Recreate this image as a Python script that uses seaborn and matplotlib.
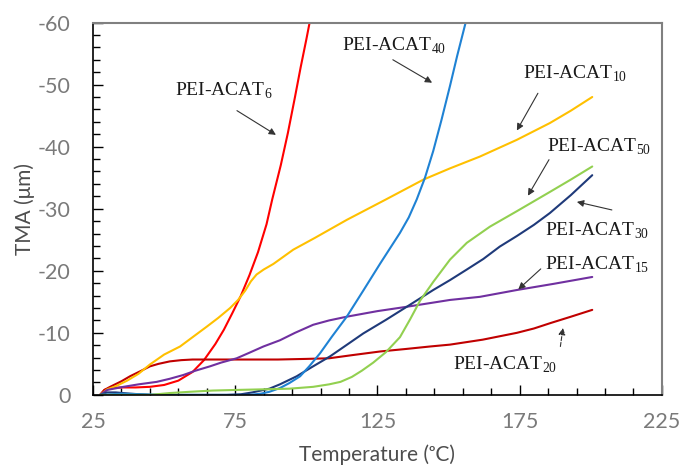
import matplotlib
matplotlib.use('Agg')
import matplotlib.pyplot as plt
import seaborn as sns
import pandas as pd
from matplotlib.ticker import MultipleLocator, FuncFormatter

# Data
x6 = [27.5, 29, 31, 35, 40, 45, 50, 55, 60, 64, 68, 71, 74, 77, 80, 83, 86, 88, 91, 93.5, 96, 98, 100, 102]
y6 = [0, -0.8, -1.1, -1.2, -1.2, -1.3, -1.6, -2.3, -3.7, -5.6, -8.2, -10.5, -13.2, -16, -19.3, -23, -27.5, -31.5, -37, -42.2, -48, -52.8, -57.3, -62]

x20 = [27.5, 29, 31, 35, 38, 42, 45, 48, 52, 56, 60, 70, 80, 90, 100, 108, 116, 126, 135, 143.5, 150.5, 162, 174, 180, 186, 193, 200.5]
y20 = [0, -0.8, -1.3, -2.2, -3.0, -3.9, -4.6, -5.0, -5.4, -5.6, -5.7, -5.7, -5.7, -5.7, -5.8, -5.9, -6.4, -7.0, -7.4, -7.8, -8.1, -8.9, -10.0, -10.7, -11.6, -12.6, -13.7]

x10 = [27.5, 30, 33, 37, 41, 45, 50, 55.6, 60, 65, 69, 73.2, 76, 78.5, 80.5, 82.5, 85, 88.4, 95.4, 103, 114.2, 128, 141.2, 150.5, 161, 174, 185.6, 193, 200.5]
y10 = [0, -0.9, -1.4, -2.3, -3.4, -4.9, -6.5, -7.8, -9.3, -11, -12.4, -14, -15.3, -16.8, -18.3, -19.4, -20.2, -21.1, -23.4, -25.3, -28.2, -31.5, -34.7, -36.5, -38.4, -41.1, -43.8, -45.8, -48]

x15 = [27.5, 30, 35.7, 41, 47.4, 52, 56.7, 61, 66.1, 70, 75.5, 80, 84.9, 90.7, 96, 102.4, 108, 114.2, 125, 135.3, 150.5, 161, 174, 187, 200.5]
y15 = [0, -0.8, -1.3, -1.7, -2.1, -2.6, -3.2, -3.9, -4.6, -5.2, -5.9, -6.8, -7.8, -8.8, -10, -11.3, -12.0, -12.6, -13.5, -14.2, -15.3, -15.8, -16.9, -17.9, -19]

x30 = [27.5, 30, 33, 38, 45, 55, 65, 72, 77, 81, 84, 87, 90.7, 96.6, 102, 108.3, 114, 120, 128, 135.3, 144.6, 150.5, 156.4, 162.2, 168, 174, 180, 185.6, 193, 200.5]
y30 = [0, -0.4, -0.4, -0.2, 0, 0, 0, 0, -0.1, -0.4, -0.7, -1.0, -1.7, -3.0, -4.5, -6.2, -8.0, -9.9, -12.1, -14.2, -16.9, -18.5, -20.2, -21.9, -23.9, -25.6, -27.4, -29.3, -32.2, -35.4]

x40 = [27.5, 35, 50, 65, 75, 80, 84, 87, 90.7, 94, 97.8, 101, 104.8, 109, 114.2, 120, 126, 132.9, 136, 138.8, 141.7, 144.6, 147.5, 150.5, 153, 156, 157]
y40 = [0, -0.2, 0, 0, 0, 0, -0.2, -0.5, -1.1, -1.9, -3.0, -4.6, -6.7, -9.4, -12.6, -16.8, -21.2, -26.1, -28.6, -31.5, -35.0, -39.3, -44.3, -49.8, -54.6, -60, -61.8]

x50 = [27.5, 35, 45, 52, 59, 67, 75.5, 85, 94, 102.4, 108, 112, 116, 119.5, 123.5, 128, 132.9, 136.5, 140, 144.6, 150.5, 156.4, 164.5, 174, 185.6, 193, 200.5]
y50 = [0, 0, 0, -0.3, -0.5, -0.7, -0.8, -0.9, -1.0, -1.3, -1.7, -2.1, -2.9, -3.9, -5.2, -6.9, -9.3, -12.2, -15.2, -18.2, -21.8, -24.5, -27.1, -29.6, -32.7, -34.7, -36.8]

series = [
    ('6', x6, y6, '#FF0000'),
    ('20', x20, y20, '#C00000'),
    ('10', x10, y10, '#FFC000'),
    ('15', x15, y15, '#7030A0'),
    ('30', x30, y30, '#1F3A7A'),
    ('40', x40, y40, '#1F82D4'),
    ('50', x50, y50, '#92D050'),
]

# annotation labels: (subscript, text x, text y, arrow start, arrow end, dashed)
labels = [
    ('6', 53.8, -48.2, (75.6, -45.8), (89.3, -41.9), False),
    ('40', 112.4, -55.5, (130.4, -54.0), (144.2, -50.3), False),
    ('10', 176.1, -51.0, (181.4, -48.6), (174.0, -42.6), False),
    ('50', 184.5, -39.2, (185.3, -37.9), (177.9, -32.1), False),
    ('30', 183.9, -25.6, (207.4, -29.8), (195.1, -31.1), False),
    ('15', 183.9, -20.2, (182.4, -20.3), (174.5, -17.0), False),
    ('20', 151.5, -4.0, (189.3, -7.8), (190.2, -10.8), True),
]

sns.set_style('ticks')
plt.rcParams['font.family'] = ['Lato', 'DejaVu Sans']
plt.rcParams['axes.unicode_minus'] = False
plt.rcParams['mathtext.fontset'] = 'custom'
plt.rcParams['mathtext.rm'] = 'Liberation Serif'

fig = plt.figure(figsize=(6.81, 4.69), dpi=100)
ax = fig.add_axes([0.1366, 0.158, 0.8354, 0.794])

for name, xs, ys, col in series:
    df = pd.DataFrame({'T': xs, 'TMA': ys})
    sns.lineplot(data=df, x='T', y='TMA', sort=False, color=col, lw=1.5, ax=ax)

ax.set_xlim(25, 225)
ax.set_ylim(0, -60)
ax.xaxis.set_major_locator(MultipleLocator(50, offset=25))
ax.xaxis.set_minor_locator(MultipleLocator(10, offset=5))
ax.yaxis.set_major_locator(MultipleLocator(10))
ax.yaxis.set_minor_locator(MultipleLocator(2))
ax.xaxis.set_major_formatter(FuncFormatter(lambda v, p: '%d' % round(v)))
ax.yaxis.set_major_formatter(FuncFormatter(lambda v, p: '%d' % round(v)))
ax.tick_params(which='major', direction='in', length=7, width=1, color='black',
               labelsize=15.5, labelcolor='#7A7A7A')
ax.tick_params(axis='x', which='major', pad=12)
ax.tick_params(axis='y', which='major', pad=16)
ax.tick_params(which='minor', direction='in', length=5, width=1, color='black')

for s in ['left', 'bottom']:
    ax.spines[s].set_color('black')
    ax.spines[s].set_linewidth(1.2)
for s in ['top', 'right']:
    ax.spines[s].set_color('#808080')
    ax.spines[s].set_linewidth(1.5)

ax.set_xlabel('Temperature (\u1d52C)', fontsize=15, color='#4D4D4D', labelpad=9)
ax.set_ylabel('TMA (\u03bcm)', fontsize=15, color='#4D4D4D', labelpad=2)

for sub, tx, ty, a0, a1, dashed in labels:
    ax.text(tx, ty, 'PEI-ACAT$_{\\mathrm{%s}}$' % sub, family='Liberation Serif',
            fontsize=14, color='#1a1a1a', ha='left', va='baseline')
    ax.annotate('', xy=a1, xytext=a0,
                arrowprops=dict(arrowstyle='-|>', color='#333333', lw=0.8,
                                ls='--' if dashed else '-', mutation_scale=10,
                                shrinkA=0, shrinkB=0))

plt.savefig('out.png', dpi=100)
